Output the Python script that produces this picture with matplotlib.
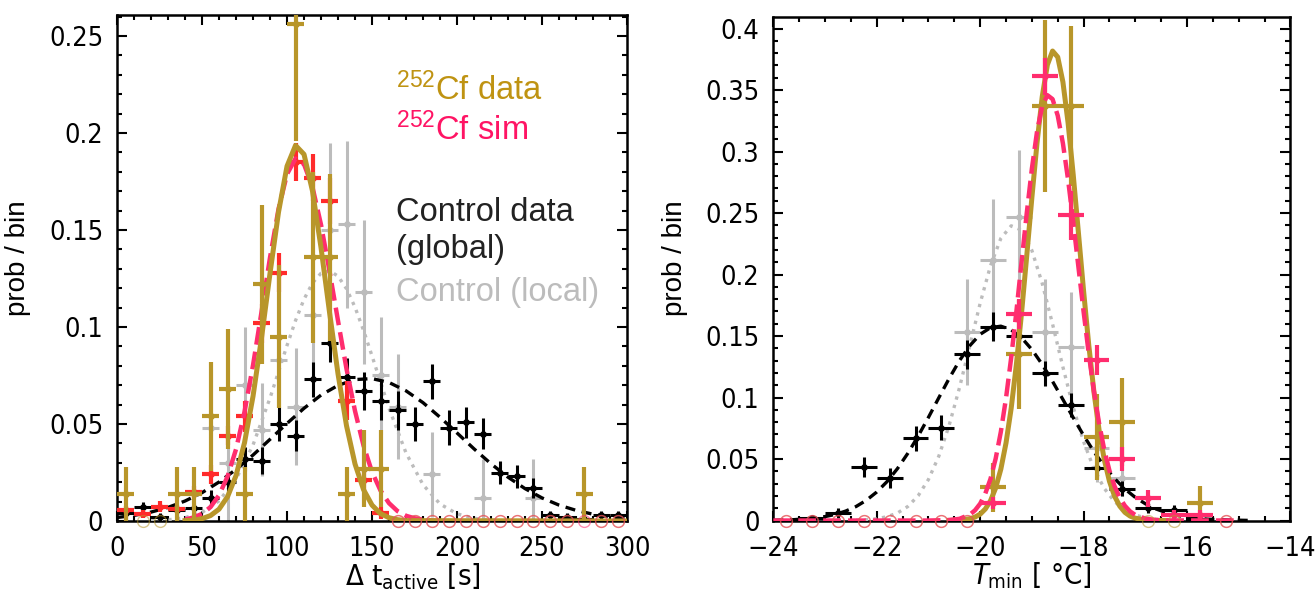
import matplotlib
matplotlib.use('Agg')
import matplotlib.pyplot as plt
import numpy as np
from matplotlib import font_manager as fm
from matplotlib.ticker import MultipleLocator, FuncFormatter

# narrow font for ticks / axis labels, whatever is installed
fonts = fm.fontManager.ttflist
if any(f.name == 'Liberation Sans Narrow' for f in fonts):
    NARROW, TICK_FS, STRETCH = 'Liberation Sans Narrow', 21, 'normal'
elif any(f.name == 'DejaVu Sans' and str(f.stretch) == 'condensed' for f in fonts):
    NARROW, TICK_FS, STRETCH = 'DejaVu Sans', 19.5, 'condensed'
else:
    NARROW, TICK_FS, STRETCH = 'DejaVu Sans', 17, 'normal'

plt.rcParams['font.family'] = [NARROW, 'DejaVu Sans']
plt.rcParams['font.stretch'] = STRETCH
plt.rcParams['mathtext.fontset'] = 'custom'
plt.rcParams['mathtext.rm'] = NARROW
plt.rcParams['mathtext.it'] = NARROW + ':italic'
plt.rcParams['mathtext.sf'] = 'Liberation Sans'
SANS = ['Liberation Sans', 'DejaVu Sans']

# ---------------- left panel: delta t active ----------------
dt_bins = [5, 15, 25, 35, 45, 55, 65, 75, 85, 95, 105, 115, 125, 135, 145,
           155, 165, 175, 185, 195, 205, 215, 225, 235, 245, 255, 265, 275, 285, 295]
nan = np.nan

cf_data_dt = [0.014, 0, 0, 0.014, 0.014, 0.054, 0.068, 0.014, 0.122, 0.095, 0.256, 0.136, 0.136, 0.014, 0.027,
              0.027, 0, 0, 0, 0, 0, 0, 0, 0, 0, 0, 0, 0.014, 0, 0]
cf_data_dt_err = [0.014, 0, 0, 0.014, 0.014, 0.028, 0.031, 0.014, 0.041, 0.037, 0.06, 0.044, 0.043, 0.014, 0.02,
                  0.02, 0, 0, 0, 0, 0, 0, 0, 0, 0, 0, 0, 0.014, 0, 0]
cf_sim_dt = [0.0055, 0.0035, 0.0074, 0.006, 0.015, 0.024, 0.044, 0.054, 0.102, 0.128, 0.185, 0.177, 0.165, 0.062, 0.021,
             0.004, 0, 0, 0, 0, 0, 0, 0, 0, 0, 0, 0, 0, 0, 0]
cf_sim_dt_err = [0.002, 0.002, 0.003, 0.002, 0.003, 0.005, 0.005, 0.008, 0.01, 0.01, 0.01, 0.012, 0.012, 0.01, 0.005,
                 0.003, 0, 0, 0, 0, 0, 0, 0, 0, 0, 0, 0, 0, 0, 0]
ctrl_glob_dt = [0.004, 0.007, 0.002, 0.0055, 0.0065, 0.012, 0.02, 0.032, 0.031, 0.05, 0.044, 0.073, 0.092, 0.074, 0.067,
                0.062, 0.057, 0.050, 0.072, 0.048, 0.051, 0.045, 0.025, 0.023, 0.017, 0.003, 0.002, 0.001, 0.003, 0.003]
ctrl_glob_dt_err = [0.003, 0.003, 0.002, 0.003, 0.003, 0.004, 0.005, 0.006, 0.007, 0.009, 0.008, 0.009, 0.01, 0.01, 0.01,
                    0.01, 0.01, 0.009, 0.009, 0.009, 0.008, 0.008, 0.006, 0.006, 0.005, 0.002, 0.002, 0.001, 0.002, 0.002]
ctrl_loc_dt = [nan, nan, nan, nan, nan, 0.048, 0.03, 0.07, 0.047, 0.083, 0.059, 0.106, 0.15, 0.153, 0.118,
               0.075, 0.059, nan, 0.024, nan, nan, 0.012, nan, nan, 0.012, nan, nan, nan, nan, nan]
ctrl_loc_dt_err = [nan, nan, nan, nan, nan, 0.03, 0.03, 0.03, 0.024, 0.035, 0.03, 0.04, 0.045, 0.043, 0.037,
                   0.03, 0.027, nan, 0.022, nan, nan, 0.02, nan, nan, 0.02, nan, nan, nan, nan, nan]

# fit curves
fit_cf_dt_x = [40, 45, 50, 55, 60, 65, 70, 75, 80, 85, 90, 95, 100, 105, 110, 115, 120, 125, 130, 135,
               140, 145, 150, 155, 160, 165, 170, 300]
fit_cf_dt_y = [0.0002, 0.0004, 0.0012, 0.0028, 0.0061, 0.0125, 0.0234, 0.0404, 0.0643, 0.0944, 0.1277, 0.1592,
               0.1829, 0.1936, 0.189, 0.17, 0.1409, 0.1076, 0.0758, 0.0491, 0.0294, 0.0162, 0.0082, 0.0038,
               0.0017, 0.0007, 0.0002, 0.0]
fit_sim_dt_x = [40, 45, 50, 55, 60, 65, 70, 75, 80, 85, 90, 95, 100, 105, 110, 115, 120, 125, 130, 135,
                140, 145, 150, 155, 160, 165, 170, 175, 180, 185, 190]
fit_sim_dt_y = [0.0008, 0.0018, 0.0037, 0.0072, 0.0133, 0.0229, 0.037, 0.0563, 0.0803, 0.1078, 0.1358, 0.1608,
                0.1788, 0.1868, 0.1839, 0.172, 0.1527, 0.1288, 0.1032, 0.0784, 0.0567, 0.0389, 0.0253, 0.0157,
                0.0092, 0.0051, 0.0027, 0.0014, 0.0007, 0.0003, 0.0001]
fit_loc_dt_x = [20, 30, 40, 50, 60, 70, 80, 90, 100, 105, 110, 115, 120, 125, 130, 135, 140, 145, 150,
                160, 170, 180, 190, 200, 210, 220, 230]
fit_loc_dt_y = [0.0002, 0.0006, 0.0017, 0.0044, 0.0104, 0.0215, 0.0392, 0.0634, 0.0905, 0.1033, 0.1143, 0.1227,
                0.1277, 0.129, 0.1262, 0.1197, 0.1102, 0.0983, 0.0851, 0.0581, 0.0351, 0.0187, 0.0088, 0.0037,
                0.0014, 0.0004, 0.0001]
fit_glob_dt_x = [0, 10, 20, 30, 40, 50, 60, 70, 80, 90, 100, 110, 120, 130, 140, 150, 160, 170, 180, 190,
                 200, 210, 220, 230, 240, 250, 260, 270, 280, 290, 300]
fit_glob_dt_y = [0.0018, 0.0029, 0.0046, 0.007, 0.0103, 0.0146, 0.0201, 0.0266, 0.034, 0.0421, 0.0503, 0.0581,
                 0.0649, 0.0699, 0.0729, 0.0734, 0.0714, 0.0671, 0.061, 0.0535, 0.0454, 0.0372, 0.0295, 0.0226,
                 0.0167, 0.0119, 0.0082, 0.0055, 0.0035, 0.0022, 0.0013]

# ---------------- right panel: T min ----------------
t_bins = [-23.75, -23.25, -22.75, -22.25, -21.75, -21.25, -20.75, -20.25, -19.75, -19.25, -18.75, -18.25,
          -17.75, -17.25, -16.75, -16.25, -15.75, -15.25]
cf_data_t = [0, 0, 0, 0, 0, 0, 0, 0, 0.027, 0.135, 0.337, 0.337, 0.068, 0.080, 0, 0, 0.014, 0]
cf_data_t_err = [0, 0, 0, 0, 0, 0, 0, 0, 0.02, 0.044, 0.07, 0.065, 0.035, 0.036, 0, 0, 0.014, 0]
cf_sim_t = [0, 0, 0, 0, 0, 0, 0, 0, 0.014, 0.168, 0.361, 0.248, 0.1305, 0.05, 0.018, 0.0045, 0.0045, 0]
cf_sim_t_err = [0, 0, 0, 0, 0, 0, 0, 0, 0.005, 0.012, 0.015, 0.02, 0.012, 0.01, 0.007, 0.004, 0.004, 0]
ctrl_glob_t = [nan, 0.002, 0.0063, 0.0437, 0.0343, 0.0668, 0.0754, 0.135, 0.1576, 0.15, 0.1197, 0.0939,
               0.0424, 0.026, 0.0099, 0.0085, 0.001, nan]
ctrl_glob_t_err = [nan, 0.002, 0.004, 0.008, 0.008, 0.01, 0.01, 0.012, 0.012, 0.012, 0.01, 0.01,
                   0.008, 0.006, 0.004, 0.004, 0.001, nan]
ctrl_loc_t = [nan, nan, nan, nan, nan, nan, nan, 0.1535, 0.2118, 0.247, 0.1535, 0.1408, 0.0587, 0.0343,
              nan, nan, nan, nan]
ctrl_loc_t_err = [nan, nan, nan, nan, nan, nan, nan, 0.043, 0.05, 0.054, 0.043, 0.045, 0.027, 0.014,
                  nan, nan, nan, nan]

fit_cf_t_x = [-20.6, -20.4, -20.2, -20.1, -20.0, -19.9, -19.8, -19.7, -19.6, -19.5, -19.4, -19.3, -19.2, -19.1,
              -19.0, -18.9, -18.8, -18.7, -18.6, -18.5, -18.4, -18.3, -18.2, -18.1, -18.0, -17.9, -17.8,
              -17.7, -17.6, -17.5, -17.4, -17.3, -17.2, -17.1, -17.0, -16.8, -16.6, -16.4]
fit_cf_t_y = [0.0001, 0.0003, 0.0014, 0.0028, 0.0052, 0.0094, 0.0161, 0.0265, 0.0418, 0.0631, 0.0913, 0.1268,
              0.1686, 0.2149, 0.2625, 0.3072, 0.3446, 0.3705, 0.3817, 0.3768, 0.3566, 0.3233, 0.281, 0.234,
              0.1867, 0.1428, 0.1047, 0.0735, 0.0495, 0.0319, 0.0197, 0.0117, 0.0066, 0.0036, 0.0019,
              0.0005, 0.0001, 0.0]
fit_sim_t_x = [-24.0, -21.0, -20.6, -20.4, -20.2, -20.1, -20.0, -19.9, -19.8, -19.7, -19.6, -19.5, -19.4,
               -19.3, -19.2, -19.1, -19.0, -18.9, -18.8, -18.7, -18.6, -18.5, -18.4, -18.3, -18.2, -18.1,
               -18.0, -17.9, -17.8, -17.7, -17.6, -17.5, -17.4, -17.3, -17.2, -17.1, -17.0, -16.8, -16.6,
               -16.4, -15.0]
fit_sim_t_y = [0.0, 0.0, 0.0004, 0.0014, 0.0048, 0.0083, 0.0137, 0.022, 0.0339, 0.0504, 0.0722, 0.0996,
               0.1325, 0.1698, 0.2099, 0.2496, 0.2861, 0.3163, 0.3369, 0.3458, 0.3426, 0.3292, 0.3067,
               0.2771, 0.2427, 0.2062, 0.1699, 0.1357, 0.1051, 0.079, 0.0575, 0.0406, 0.0278, 0.0185,
               0.0119, 0.0074, 0.0045, 0.0015, 0.0004, 0.0001, 0.0]
fit_loc_t_x = [-22.4, -22.2, -22.0, -21.8, -21.6, -21.4, -21.2, -21.0, -20.8, -20.6, -20.4, -20.2, -20.0,
               -19.8, -19.6, -19.4, -19.2, -19.0, -18.8, -18.6, -18.4, -18.2, -18.0, -17.8, -17.6, -17.4,
               -17.2, -17.0, -16.8, -16.6, -16.4]
fit_loc_t_y = [0.0003, 0.0007, 0.0015, 0.0031, 0.0061, 0.0114, 0.0201, 0.0334, 0.0523, 0.0774, 0.108, 0.1422,
               0.1767, 0.2072, 0.2294, 0.2396, 0.2361, 0.2196, 0.1928, 0.1597, 0.1248, 0.092, 0.0641, 0.0421,
               0.0261, 0.0153, 0.0084, 0.0044, 0.0022, 0.001, 0.0004]
fit_glob_t_x = [-24.0, -23.6, -23.2, -23.0, -22.8, -22.6, -22.4, -22.2, -22.0, -21.8, -21.6, -21.4, -21.2,
                -21.0, -20.8, -20.6, -20.4, -20.2, -20.0, -19.8, -19.6, -19.4, -19.2, -19.0, -18.8, -18.6,
                -18.4, -18.2, -18.0, -17.8, -17.6, -17.4, -17.2, -17.0, -16.8, -16.6, -16.4, -16.2, -16.0,
                -15.6, -15.2, -14.8]
fit_glob_t_y = [0.0002, 0.0007, 0.002, 0.0032, 0.005, 0.0077, 0.0114, 0.0165, 0.0232, 0.0317, 0.0422, 0.0546,
                0.0686, 0.0839, 0.0998, 0.1155, 0.13, 0.1422, 0.1514, 0.1568, 0.158, 0.155, 0.1486, 0.139,
                0.1269, 0.1131, 0.0984, 0.0836, 0.0692, 0.056, 0.0442, 0.0341, 0.0256, 0.0188, 0.0135,
                0.0094, 0.0064, 0.0043, 0.0028, 0.0011, 0.0004, 0.0001]

GOLD = '#b8962a'
GOLD_TXT = '#bf9312'
PINK = '#ff2d6e'
PINK_TXT = '#ff1464'
RED = '#ff2b2b'
GRAY = '#bcbcbc'


def points(ax, x, y, err, xerr, color, lw, z):
    x = np.asarray(x, float)
    y = np.asarray(y, float)
    err = np.asarray(err, float)
    m = np.isfinite(y) & (y > 0)
    ax.errorbar(x[m], y[m], yerr=err[m], xerr=xerr, fmt='o', ms=4, mfc='none', mec=color,
                mew=0.8, ecolor=color, elinewidth=lw, capsize=0, zorder=z)


def zeros(ax, x, y, color, z):
    x = np.asarray(x, float)
    y = np.asarray(y, float)
    m = y == 0
    ax.plot(x[m], y[m], 'o', ms=8.5, mfc='none', mec=color, mew=1.0, alpha=0.55,
            clip_on=False, zorder=z)


def style(ax):
    ax.tick_params(which='both', direction='in', top=True, right=True, width=1.5, labelsize=TICK_FS)
    ax.tick_params(which='major', length=7)
    ax.tick_params(which='minor', length=3.5)
    ax.tick_params(axis='x', pad=11)
    ax.tick_params(axis='y', pad=10)
    for s in ax.spines.values():
        s.set_linewidth(1.8)
    ax.yaxis.set_major_formatter(FuncFormatter(lambda v, p: '%g' % round(v, 4)))


fig = plt.figure(figsize=(13.15, 6.01), dpi=100)
ax1 = fig.add_axes([0.0890, 0.1331, 0.3878, 0.8419])
ax2 = fig.add_axes([0.5881, 0.1339, 0.3932, 0.8383])

# left panel
points(ax1, dt_bins, ctrl_loc_dt, ctrl_loc_dt_err, 5, GRAY, 2.2, 2)
ax1.plot(fit_loc_dt_x, fit_loc_dt_y, color=GRAY, lw=2.4, dashes=(1, 1.6), zorder=3)
points(ax1, dt_bins, ctrl_glob_dt, ctrl_glob_dt_err, 5, 'black', 2.2, 4)
ax1.plot(fit_glob_dt_x, fit_glob_dt_y, color='black', lw=2.4, dashes=(3, 2), zorder=5)
points(ax1, dt_bins, cf_sim_dt, cf_sim_dt_err, 5, RED, 3.0, 6)
ax1.plot(fit_sim_dt_x, fit_sim_dt_y, color=PINK, lw=3.2, dashes=(4, 1.6), zorder=7)
points(ax1, dt_bins, cf_data_dt, cf_data_dt_err, 5, GOLD, 3.0, 8)
ax1.plot(fit_cf_dt_x, fit_cf_dt_y, color=GOLD, lw=3.6, zorder=9)
zeros(ax1, dt_bins, cf_data_dt, GOLD, 10)
zeros(ax1, dt_bins, cf_sim_dt, PINK, 11)

ax1.set_xlim(0, 300)
ax1.set_ylim(0, 0.2608)
ax1.xaxis.set_major_locator(MultipleLocator(50))
ax1.xaxis.set_minor_locator(MultipleLocator(10))
ax1.yaxis.set_major_locator(MultipleLocator(0.05))
ax1.yaxis.set_minor_locator(MultipleLocator(0.01))
style(ax1)
ax1.set_ylabel('prob / bin', fontsize=20, family=SANS, stretch='normal')
ax1.yaxis.set_label_coords(-0.168, 0.52)
ax1.set_xlabel(r'$\Delta\ \mathrm{t}_{\mathrm{active}}$ [s]', fontsize=21)
ax1.xaxis.set_label_coords(0.58, -0.079)

ax1.text(164, 0.222, r'$\mathsf{{}^{252}Cf\ data}$', color=GOLD_TXT, fontsize=23.5, va='center')
ax1.text(164, 0.2015, r'$\mathsf{{}^{252}Cf\ sim}$', color=PINK_TXT, fontsize=23.5, va='center')
ax1.text(164, 0.159, 'Control data', color='#222222', fontsize=23.5, va='center', family=SANS, stretch='normal')
ax1.text(164, 0.140, '(global)', color='#222222', fontsize=23.5, va='center', family=SANS, stretch='normal')
ax1.text(164, 0.118, 'Control (local)', color=GRAY, fontsize=23.5, va='center', family=SANS, stretch='normal')

# right panel
points(ax2, t_bins, ctrl_loc_t, ctrl_loc_t_err, 0.25, GRAY, 2.2, 2)
ax2.plot(fit_loc_t_x, fit_loc_t_y, color=GRAY, lw=2.4, dashes=(1, 1.6), zorder=3)
points(ax2, t_bins, ctrl_glob_t, ctrl_glob_t_err, 0.25, 'black', 2.2, 4)
ax2.plot(fit_glob_t_x, fit_glob_t_y, color='black', lw=2.4, dashes=(3, 2), zorder=5)
points(ax2, t_bins, cf_data_t, cf_data_t_err, 0.25, GOLD, 3.0, 6)
ax2.plot(fit_cf_t_x, fit_cf_t_y, color=GOLD, lw=3.6, zorder=7)
points(ax2, t_bins, cf_sim_t, cf_sim_t_err, 0.25, PINK, 3.0, 8)
ax2.plot(fit_sim_t_x, fit_sim_t_y, color=PINK, lw=3.2, dashes=(4, 1.6), zorder=9)
zeros(ax2, t_bins, cf_data_t, GOLD, 10)
zeros(ax2, t_bins, cf_sim_t, PINK, 11)

ax2.set_xlim(-24, -14)
ax2.set_ylim(0, 0.4096)
ax2.xaxis.set_major_locator(MultipleLocator(2))
ax2.xaxis.set_minor_locator(MultipleLocator(0.5))
ax2.yaxis.set_major_locator(MultipleLocator(0.05))
ax2.yaxis.set_minor_locator(MultipleLocator(0.01))
style(ax2)
ax2.xaxis.set_major_formatter(FuncFormatter(lambda v, p: ('%g' % v).replace('-', '\u2212')))
ax2.set_ylabel('prob / bin', fontsize=20, family=SANS, stretch='normal')
ax2.yaxis.set_label_coords(-0.165, 0.52)
ax2.set_xlabel(r'$T_{\mathrm{min}}$ [ °C]', fontsize=21)
ax2.xaxis.set_label_coords(0.5, -0.079)

fig.savefig('out.png', dpi=100)
